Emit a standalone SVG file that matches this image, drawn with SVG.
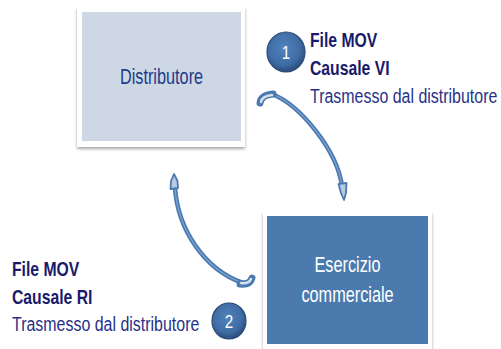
<svg xmlns="http://www.w3.org/2000/svg" width="501" height="349" viewBox="0 0 501 349">
<defs>
<filter id="sh" x="-10%" y="-10%" width="120%" height="125%">
<feDropShadow dx="0" dy="2" stdDeviation="1.8" flood-color="#000" flood-opacity="0.35"/>
</filter>
<radialGradient id="cg" cx="45%" cy="40%" r="60%">
<stop offset="0" stop-color="#5283BD"/>
<stop offset="0.7" stop-color="#3F6CA3"/>
<stop offset="1" stop-color="#2B4C7C"/>
</radialGradient>
<style>
text{font-family:"Liberation Sans",Arial,sans-serif}
.lbl{font-size:21px}
.b{font-weight:bold;fill:#1A1A6B}
.n{fill:#27318A}
.box{font-size:22px;text-anchor:middle}
.num{font-size:19px;fill:#fff;text-anchor:middle}
.frame{fill:#fff;filter:url(#sh)}
.circ{fill:url(#cg);stroke:#2A4A78;stroke-width:1.2}
.arc{fill:none;stroke:#4A78B0;stroke-width:4.5;stroke-linecap:round}
.arci{fill:none;stroke:#7FA3CF;stroke-width:1.3;stroke-linecap:round}
.curl{fill:none;stroke:#4A78B0;stroke-width:7;stroke-linecap:round}
.curli{fill:none;stroke:#D6E0EC;stroke-width:2.5;stroke-linecap:round}
.head{fill:#B7CAE2;stroke:#4A78B0;stroke-width:1.8;stroke-linejoin:round}
</style>
</defs>
<rect width="501" height="349" fill="#fff"/>

<g id="connectors">
<g id="arrow1">
<path class="arc" d="M272,94 C300,105 337,150 342,186"/>
<path class="arci" d="M272,94 C300,105 337,150 342,186"/>
<path class="curl" d="M260,103 Q261,95 273,94"/>
<path class="curli" d="M261,102 Q262,96 272,95"/>
<polygon class="head" points="338.5,184 346.5,183 346,193 344,200 341,193"/>
</g>
<g id="arrow2">
<path class="arc" d="M175,188 C178,230 205,270 243,283"/>
<path class="arci" d="M175,188 C178,230 205,270 243,283"/>
<path class="curl" d="M240,284 Q250,285 252,278"/>
<path class="curli" d="M241,283 Q249,284 251,279"/>
<polygon class="head" points="170.5,189 178,188 177.5,181 174,174 171,181"/>
</g>
</g>

<g id="distributore">
<rect class="frame" x="77" y="7" width="168" height="140"/>
<rect x="82" y="12" width="159" height="129" fill="#CDD8E4"/>
<text class="box" transform="translate(161.5,84) scale(0.74,1)" fill="#1F3A8C">Distributore</text>
</g>

<g id="esercizio">
<rect class="frame" x="263" y="212" width="169" height="137"/>
<rect x="267" y="216" width="161" height="128" fill="#4A7AAE"/>
<text class="box" transform="translate(347.5,272) scale(0.74,1)" fill="#fff">Esercizio</text>
<text class="box" transform="translate(347.5,302) scale(0.74,1)" fill="#fff">commerciale</text>
</g>

<g id="step1">
<ellipse class="circ" cx="286" cy="52" rx="19" ry="20"/>
<text class="num" transform="translate(286,59) scale(0.8,1)">1</text>
<text class="lbl b" transform="translate(310,47) scale(0.75,1)">File MOV</text>
<text class="lbl b" transform="translate(310,75) scale(0.75,1)">Causale VI</text>
<text class="lbl n" transform="translate(310,103) scale(0.76,1)">Trasmesso dal distributore</text>
</g>

<g id="step2">
<ellipse class="circ" cx="229" cy="321" rx="17" ry="18"/>
<text class="num" transform="translate(229,328) scale(0.8,1)">2</text>
<text class="lbl b" transform="translate(12,276) scale(0.75,1)">File MOV</text>
<text class="lbl b" transform="translate(12,304) scale(0.75,1)">Causale RI</text>
<text class="lbl n" transform="translate(12,331) scale(0.76,1)">Trasmesso dal distributore</text>
</g>
</svg>
